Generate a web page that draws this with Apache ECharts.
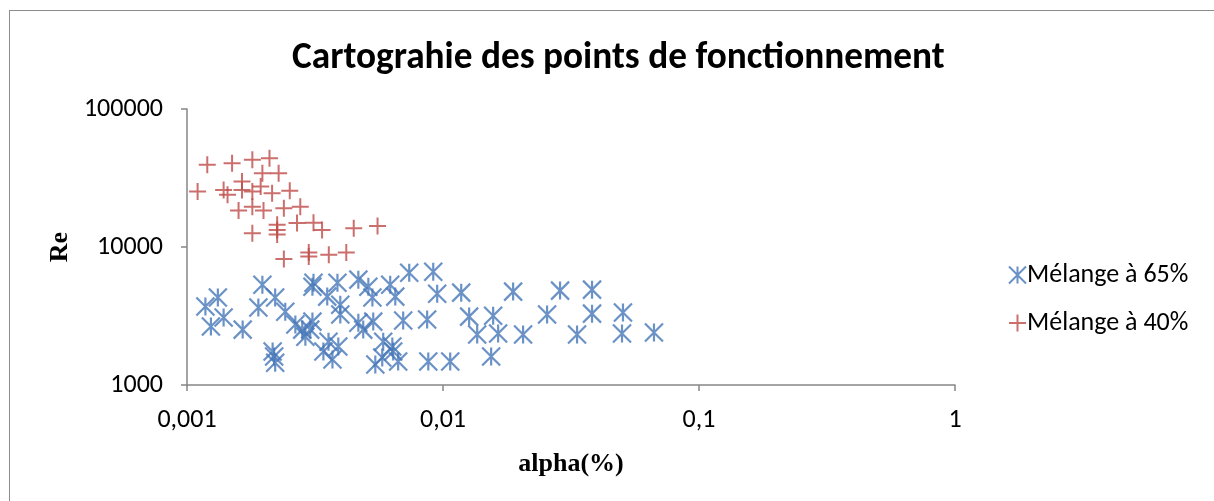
<!DOCTYPE html>
<html>
<head>
<meta charset="utf-8">
<title>Cartograhie des points de fonctionnement</title>
<script src="https://cdn.jsdelivr.net/npm/echarts@6/dist/echarts.min.js"></script>
<style>
    html, body { margin: 0; padding: 0; background: #fff; overflow: hidden; }
    #frame { position: absolute; left: 9px; top: 10px; width: 1220px; height: 500px; border: 1px solid #8c8c8c; }
    #chart { position: absolute; left: 0; top: 0; width: 1214px; height: 501px; }
</style>
</head>
<body>
<div id="frame"></div>
<div id="chart"></div>
<script>
    // Mélange à 65% : [alpha, Re]
    const melange65 = [
        [0.00118, 3700], [0.00132, 4300], [0.00124, 2650], [0.00139, 3080], [0.00165, 2520],
        [0.0019, 3640], [0.00197, 5330], [0.00221, 4300], [0.00242, 3400], [0.00265, 2740],
        [0.00282, 2520], [0.0029, 2240], [0.00309, 2880], [0.00303, 2520], [0.00312, 5510],
        [0.00309, 5160], [0.00387, 5510], [0.00353, 4370], [0.00397, 3820], [0.00397, 3240],
        [0.00467, 5800], [0.00511, 5160], [0.0053, 4300], [0.00622, 5330], [0.00467, 2830],
        [0.00488, 2520], [0.00534, 2880], [0.00357, 2060], [0.0039, 1900], [0.00341, 1750],
        [0.0037, 1530], [0.00584, 2060], [0.00639, 1750], [0.00544, 1410], [0.00216, 1750],
        [0.00221, 1450], [0.00219, 1610], [0.00738, 6510], [0.00916, 6620], [0.00651, 4370],
        [0.00949, 4590], [0.01178, 4670], [0.01879, 4750], [0.00699, 2930], [0.00867, 2980],
        [0.01265, 3130], [0.0157, 3180], [0.0136, 2320], [0.01642, 2360], [0.00634, 1900],
        [0.00579, 1580], [0.00668, 1480], [0.00876, 1480], [0.01067, 1480], [0.01542, 1610],
        [0.02055, 2320], [0.02866, 4830], [0.03821, 4910], [0.0255, 3240], [0.03821, 3290],
        [0.05047, 3350], [0.03339, 2320], [0.05003, 2360], [0.0667, 2400]
    ]
    // Mélange à 40% : [alpha, Re]
    const melange40 = [
        [0.0011, 25200], [0.0012, 39400], [0.00139, 25900], [0.00144, 23900], [0.0015, 40500],
        [0.0018, 42800], [0.0021, 44000], [0.00197, 34300], [0.00228, 34300], [0.00164, 29800],
        [0.00164, 25900], [0.00194, 27400], [0.0018, 25200], [0.00215, 24500], [0.00252, 25600],
        [0.00159, 18400], [0.0018, 19600], [0.00199, 18400], [0.00239, 19100], [0.00277, 19600],
        [0.0018, 12600], [0.00225, 14500], [0.00225, 13300], [0.00225, 12300], [0.00269, 14900],
        [0.00312, 15000], [0.00337, 13300], [0.00448, 13700], [0.00555, 14200], [0.00239, 8180],
        [0.00299, 9130], [0.00299, 8550], [0.00358, 8790], [0.00419, 9130]
    ]
    const xTickLabels = ['0,001', '0,01', '0,1', '1']
    const yTickLabels = ['1000', '10000', '100000']

    const blue = '#4677b8'
    const red = '#be4b48'
    const starPath = 'path://M0,0L10,10M10,0L0,10M5,0L5,10'
    const plusPath = 'path://M0,5L10,5M5,0L5,10'
    const labelFont = 'Carlito, Lato, "Open Sans", sans-serif'
    const serifFont = '"Liberation Serif", "DejaVu Serif", serif'

    const chart = echarts.init(document.getElementById('chart'), null, {renderer: 'canvas'})

    const option = {
        animation: false,
        backgroundColor: 'transparent',
        title: {
            text: 'Cartograhie des points de fonctionnement',
            left: 287,
            top: 35,
            textStyle: {
                fontFamily: labelFont,
                fontWeight: 'bold',
                fontSize: 37.3,
                color: '#000'
            }
        },
        legend: {
            orient: 'vertical',
            left: 1003,
            top: 257,
            itemGap: 22,
            itemWidth: 17,
            itemHeight: 17,
            textStyle: {
                fontFamily: labelFont,
                fontSize: 26,
                color: '#000',
                padding: [0, 0, 0, -4]
            },
            data: ['Mélange à 65%', 'Mélange à 40%']
        },
        grid: {
            left: 187,
            right: 259,
            top: 109,
            bottom: 116,
            containLabel: false
        },
        xAxis: {
            type: 'log',
            logBase: 10,
            min: 0.001,
            max: 1,
            name: 'alpha(%)',
            nameLocation: 'middle',
            nameGap: 66,
            nameTextStyle: {
                fontFamily: serifFont,
                fontWeight: 'bold',
                fontSize: 26,
                color: '#000'
            },
            axisLine: {lineStyle: {color: '#868686', width: 1.5}},
            axisTick: {show: true, length: 6, lineStyle: {color: '#868686', width: 1.5}},
            minorTick: {show: false},
            splitLine: {show: false},
            axisLabel: {
                margin: 22,
                fontFamily: labelFont,
                fontSize: 26,
                color: '#000',
                formatter: function (v) {
                    return xTickLabels[Math.round(Math.log10(v)) + 3]
                }
            }
        },
        yAxis: {
            type: 'log',
            logBase: 10,
            min: 1000,
            max: 100000,
            name: 'Re',
            nameLocation: 'middle',
            nameRotate: 90,
            nameGap: 113,
            nameTextStyle: {
                fontFamily: serifFont,
                fontWeight: 'bold',
                fontSize: 26,
                color: '#000'
            },
            axisLine: {show: true, lineStyle: {color: '#868686', width: 1.5}},
            axisTick: {show: true, length: 6, lineStyle: {color: '#868686', width: 1.5}},
            splitLine: {show: false},
            axisLabel: {
                margin: 24,
                fontFamily: labelFont,
                fontSize: 26,
                color: '#000',
                formatter: function (v) {
                    return yTickLabels[Math.round(Math.log10(v)) - 3]
                }
            }
        },
        series: [
            {
                name: 'Mélange à 65%',
                type: 'scatter',
                symbol: starPath,
                symbolSize: 18,
                itemStyle: {color: 'rgba(0,0,0,0)', borderColor: blue, borderWidth: 2.2},
                data: melange65
            },
            {
                name: 'Mélange à 40%',
                type: 'scatter',
                symbol: plusPath,
                symbolSize: 17,
                itemStyle: {color: 'rgba(0,0,0,0)', borderColor: red, borderWidth: 2},
                data: melange40
            }
        ]
    }

    chart.setOption(option)
</script>
</body>
</html>
